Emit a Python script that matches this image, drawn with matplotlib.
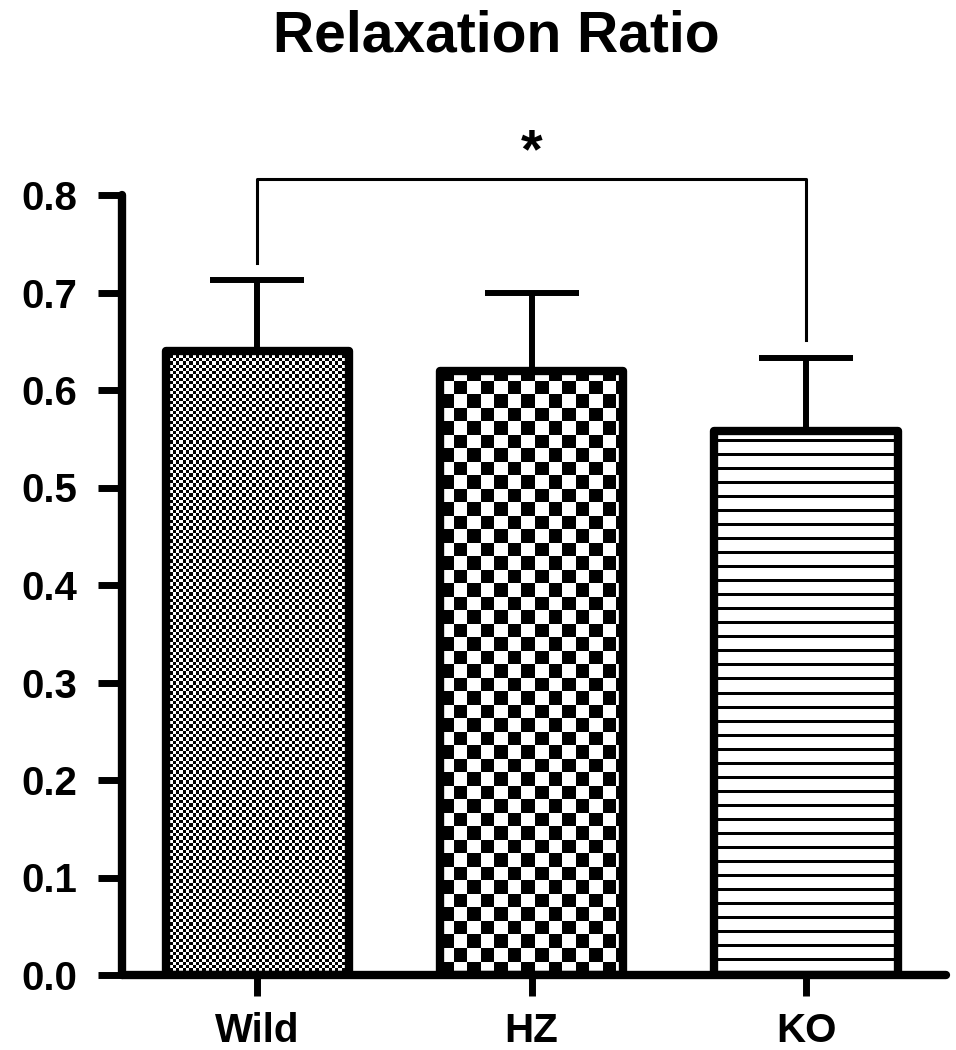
import numpy as np
import matplotlib

matplotlib.use("Agg")
import matplotlib.pyplot as plt

# ---- data ------------------------------------------------------------------
groups = ["Wild", "HZ", "KO"]
means = [0.640, 0.619, 0.558]
errs = [0.073, 0.080, 0.075]
yticks = [0.0, 0.1, 0.2, 0.3, 0.4, 0.5, 0.6, 0.7, 0.8]
sig_pair = (0, 2)          # Wild vs KO
sig_y = 0.816              # bracket height
sig_legs = [0.730, 0.651]  # bottom of the bracket legs
sig_label = "*"

plt.rcParams["font.family"] = ["Liberation Sans", "DejaVu Sans"]
plt.rcParams["font.weight"] = "bold"

fig = plt.figure(figsize=(9.56, 10.5), dpi=100)
ax = fig.add_axes([122 / 956, 75 / 1050, 824 / 956, 780 / 1050])
x = np.arange(len(groups))
ax.set_xlim(-0.492, 2.51)
ax.set_ylim(0, 0.8)

# pixel size of one data unit (axes box is fixed, so this is exact)
px_x = 824 / (2.51 + 0.492)
px_y = 780 / 0.8


def checker(h_px, w_px, cell):
    nr = int(np.ceil(h_px / cell)) + 1
    nc = int(np.ceil(w_px / cell)) + 1
    r, c = np.indices((nr, nc))
    return ((r + c) % 2).astype(float), nr * cell, nc * cell


def stripes(h_px, w_px, period, thick):
    n = int(np.ceil(h_px)) + period
    rows = (np.arange(n) % period < thick).astype(float)
    return 1 - rows[:, None] * np.ones((1, 2)), n, w_px + 4


width = 0.667
bars = ax.bar(x, means, width, facecolor="none", edgecolor="black",
              linewidth=6, zorder=3)
for b in bars:
    b.set_joinstyle("round")

for i, b in enumerate(bars):
    h_px = means[i] * px_y
    w_px = width * px_x
    if i == 0:
        img, hh, ww = checker(h_px, w_px, 3.3)
    elif i == 1:
        img, hh, ww = checker(h_px, w_px, 13.5)
    else:
        img, hh, ww = stripes(h_px, w_px, 14, 3)
    x0 = x[i] - width / 2
    im = ax.imshow(img, cmap="gray", vmin=0, vmax=1, origin="lower",
                   interpolation="nearest", aspect="auto",
                   extent=(x0, x0 + ww / px_x, 0, hh / px_y), zorder=1)
    im.set_clip_path(b)

ax.set_xlim(-0.492, 2.51)
ax.set_ylim(0, 0.8)

ax.errorbar(x, means, yerr=[np.zeros(len(errs)), errs], fmt="none",
            ecolor="black", elinewidth=4.3, capsize=34, capthick=4.3, zorder=2)

# significance bracket
i0, i1 = sig_pair
ax.plot([x[i0], x[i0], x[i1], x[i1]], [sig_legs[0], sig_y, sig_y, sig_legs[1]],
        color="black", lw=2.2, clip_on=False)
ax.text((x[i0] + x[i1]) / 2, 0.828, sig_label, ha="center", va="baseline",
        fontsize=40, fontweight="bold", clip_on=False)

for s in ["top", "right"]:
    ax.spines[s].set_visible(False)
for s in ["left", "bottom"]:
    ax.spines[s].set_linewidth(6)
    ax.spines[s].set_capstyle("round")

ax.set_yticks(yticks)
ax.set_yticklabels([f"{v:.1f}" for v in yticks])
ax.set_xticks(x)
ax.set_xticklabels(groups)
ax.tick_params(axis="y", length=17, width=5, pad=15, labelsize=29)
ax.tick_params(axis="x", length=15, width=5, pad=12, labelsize=29)
for lab in ax.get_xticklabels() + ax.get_yticklabels():
    lab.set_fontweight("bold")

fig.text(496 / 956, 1 - 37 / 1050, "Relaxation Ratio", ha="center",
         va="center", fontsize=41, fontweight="bold")

fig.savefig("out.png", dpi=100, facecolor="white")
